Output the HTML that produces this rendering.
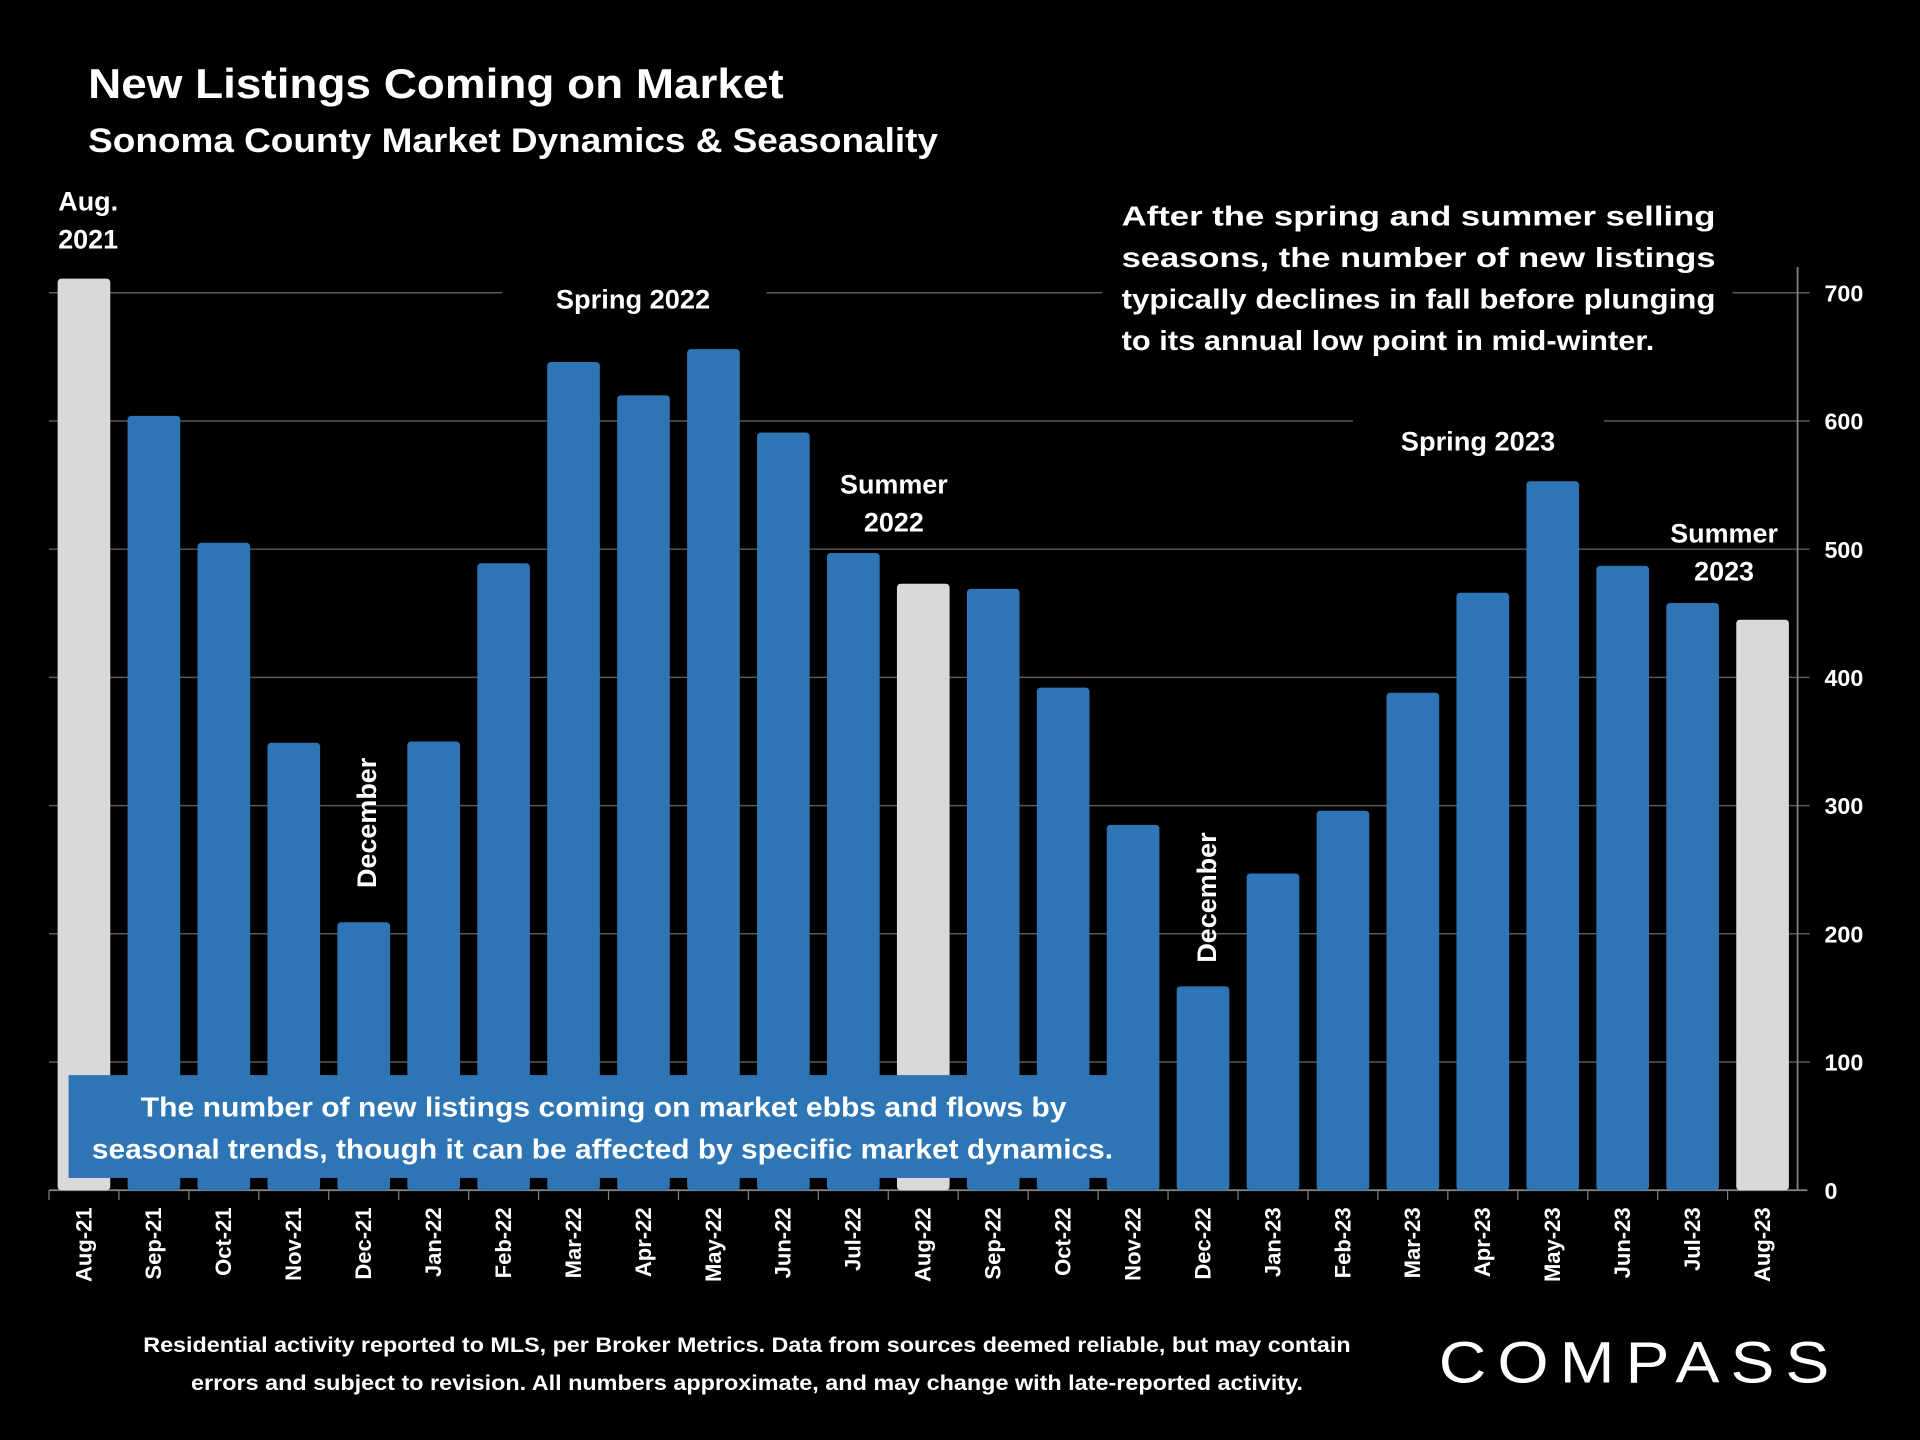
<!DOCTYPE html>
<html><head><meta charset="utf-8"><style>
html,body{margin:0;padding:0;background:#000;}
svg{display:block;font-family:"Liberation Sans",sans-serif;}
</style></head><body>
<svg id="chart" width="1920" height="1440" viewBox="0 0 1568 1176" xmlns="http://www.w3.org/2000/svg">
<rect width="1568" height="1176" fill="#000"/>
<text x="72" y="80" fill="#fff" font-size="34" font-weight="bold" textLength="568" lengthAdjust="spacingAndGlyphs">New Listings Coming on Market</text>
<text x="72" y="124" fill="#fff" font-size="28" font-weight="bold" textLength="694" lengthAdjust="spacingAndGlyphs">Sonoma County Market Dynamics &amp; Seasonality</text>
<g id="grid"></g>
<g id="bars"></g>
<g id="xlabels"></g>
<g id="ylabels"></g>
<g fill="#fff" font-weight="bold" font-size="22" text-anchor="middle">
<text x="72" y="172">Aug.</text><text x="72" y="203">2021</text>
<rect x="410" y="226" width="216" height="34" fill="#000"/>
<text x="517" y="252" textLength="126" lengthAdjust="spacingAndGlyphs">Spring 2022</text>
<text x="730" y="403">Summer</text><text x="730" y="434">2022</text>
<text transform="translate(307,672) rotate(-90)">December</text>
<text transform="translate(993,733) rotate(-90)">December</text>
<rect x="1105" y="340" width="205" height="34" fill="#000"/>
<text x="1207" y="368" textLength="126" lengthAdjust="spacingAndGlyphs">Spring 2023</text>
<text x="1408" y="443">Summer</text><text x="1408" y="474">2023</text>
</g>
<g fill="#fff" font-weight="bold" font-size="23">
<rect x="900" y="155" width="515" height="140" fill="#000"/>
<text x="916" y="184" textLength="485" lengthAdjust="spacingAndGlyphs">After the spring and summer selling</text>
<text x="916" y="218" textLength="485" lengthAdjust="spacingAndGlyphs">seasons, the number of new listings</text>
<text x="916" y="252" textLength="485" lengthAdjust="spacingAndGlyphs">typically declines in fall before plunging</text>
<text x="916" y="286" textLength="435" lengthAdjust="spacingAndGlyphs">to its annual low point in mid-winter.</text>
</g>
<g>
<rect x="56" y="878" width="852" height="84" fill="#2E75B6"/>
<text x="493" y="912" fill="#fff" font-size="23" font-weight="bold" text-anchor="middle" textLength="756" lengthAdjust="spacingAndGlyphs">The number of new listings coming on market ebbs and flows by</text>
<text x="492" y="946" fill="#fff" font-size="23" font-weight="bold" text-anchor="middle" textLength="834" lengthAdjust="spacingAndGlyphs">seasonal trends, though it can be affected by specific market dynamics.</text>
</g>
<g fill="#fff" font-size="17" font-weight="bold" text-anchor="middle">
<text x="610" y="1104" textLength="986" lengthAdjust="spacingAndGlyphs">Residential activity reported to MLS, per Broker Metrics. Data from sources deemed reliable, but may contain</text>
<text x="610" y="1135" textLength="908" lengthAdjust="spacingAndGlyphs">errors and subject to revision. All numbers approximate, and may change with late-reported activity.</text>
</g>
<text x="1175" y="1129" fill="#fff" font-size="48" textLength="328" lengthAdjust="spacingAndGlyphs" letter-spacing="8">COMPASS</text>
</svg>
<script>
const categories=["Aug-21","Sep-21","Oct-21","Nov-21","Dec-21","Jan-22","Feb-22","Mar-22","Apr-22","May-22","Jun-22","Jul-22","Aug-22","Sep-22","Oct-22","Nov-22","Dec-22","Jan-23","Feb-23","Mar-23","Apr-23","May-23","Jun-23","Jul-23","Aug-23"];
const values=[711,604,505,349,209,350,489,646,620,656,591,497,473,469,392,285,159,247,296,388,466,553,487,458,445];
const highlighted=["Aug-21","Aug-22","Aug-23"];
const yTicks=[0,100,200,300,400,500,600,700];
const NS="http://www.w3.org/2000/svg";
const X0=40,X1=1468,Y0=972,PX=1.047;
const slot=(X1-X0)/categories.length;
function y(v){return Y0-v*PX;}
function xc(i){return X0+slot*(i+0.5);}
function mk(t,a,p){const e=document.createElementNS(NS,t);for(const k in a)e.setAttribute(k,a[k]);p.appendChild(e);return e;}
const grid=document.getElementById('grid'),bars=document.getElementById('bars'),xl=document.getElementById('xlabels'),yl=document.getElementById('ylabels');
yTicks.forEach(v=>{
  if(v>0){const g=mk('line',{x1:X0,x2:X1+10,y1:y(v),y2:y(v),stroke:'#595959','stroke-width':1.2},grid);
  
  }
  const t=mk('text',{x:1490,y:y(v)+7,fill:'#fff','font-size':19,'font-weight':'bold'},yl);
  t.textContent=v;
  
  
});
const ax=mk('line',{x1:X1,x2:X1,y1:218,y2:Y0,stroke:'#7f7f7f','stroke-width':1.5},grid);


const xa=mk('line',{x1:X0,x2:X1+8,y1:Y0,y2:Y0,stroke:'#7f7f7f','stroke-width':1.5},grid);


categories.forEach((c,i)=>{
  const w=43,v=values[i];
  const r=mk('rect',{x:xc(i)-w/2,y:y(v),width:w,height:v*PX,rx:3,fill:highlighted.includes(c)?'#D9D9D9':'#2E75B6'},bars);
  
  
  const tk=mk('line',{x1:X0+slot*i,x2:X0+slot*i,y1:Y0,y2:Y0+8,stroke:'#7f7f7f'},grid);
  
  
  const t=mk('text',{transform:`translate(${xc(i)+6},986) rotate(-90)`,fill:'#fff','font-size':18,'font-weight':'bold','text-anchor':'end'},xl);
  t.textContent=c;
  
  
});
</script>
</body></html>
